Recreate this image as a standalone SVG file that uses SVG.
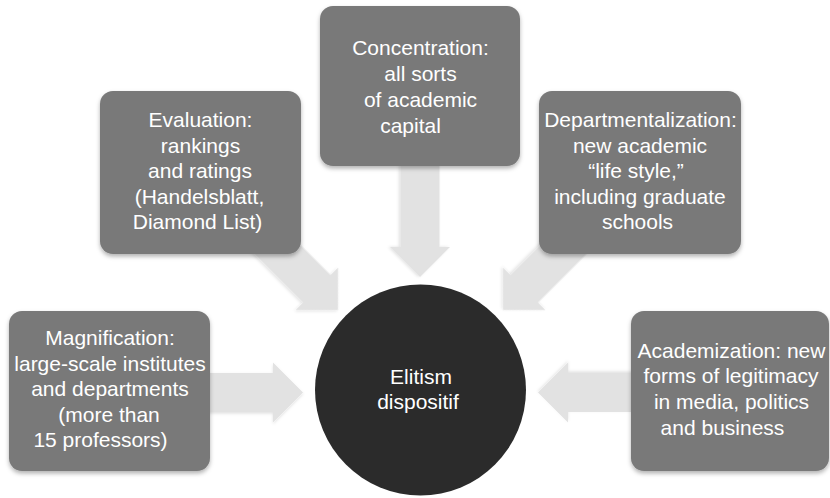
<svg xmlns="http://www.w3.org/2000/svg" width="830" height="498" viewBox="0 0 830 498">
  <style>
    .box { fill: #797979; filter: url(#shadow); }
    .hub { fill: #2b2b2b; }
    .arrow { fill: #e2e2e2; filter: url(#soft); }
    text { font-family: "Liberation Sans", Arial, Helvetica, sans-serif; font-size: 21px; fill: #ffffff; text-anchor: middle; }
  </style>
  <defs>
    <filter id="shadow" x="-10%" y="-10%" width="120%" height="130%">
      <feDropShadow dx="0" dy="2.5" stdDeviation="2" flood-color="#000" flood-opacity="0.3"/>
    </filter>
    <filter id="soft" x="-10%" y="-10%" width="120%" height="130%">
      <feDropShadow dx="0" dy="1.5" stdDeviation="1.5" flood-color="#000" flood-opacity="0.12"/>
    </filter>
    <!-- block arrow pointing along +x, tip at the origin -->
    <path id="block-arrow" d="M-120,-19.5 H-30 V-30 L0,0 L-30,30 V19.5 H-120 Z"/>
  </defs>

  <rect width="830" height="498" fill="#ffffff"/>

  <g id="connectors">
    <use href="#block-arrow" class="arrow" transform="translate(303,392.5)"/>
    <use href="#block-arrow" class="arrow" transform="translate(538,392.5) rotate(180)"/>
    <use href="#block-arrow" class="arrow" transform="translate(420,277) rotate(90)"/>
    <use href="#block-arrow" class="arrow" transform="translate(338,310) rotate(45)"/>
    <use href="#block-arrow" class="arrow" transform="translate(503,310) rotate(135)"/>
  </g>

  <g id="concentration">
    <rect class="box" x="320" y="6" width="200" height="160" rx="13"/>
    <text x="420.5" y="55">Concentration:</text>
    <text x="420.5" y="81">all sorts</text>
    <text x="420.5" y="107">of academic</text>
    <text x="410.5" y="133">capital</text>
  </g>

  <g id="evaluation">
    <rect class="box" x="100" y="91" width="201" height="163" rx="13"/>
    <text x="200.5" y="127">Evaluation:</text>
    <text x="200.5" y="153">rankings</text>
    <text x="200" y="178">and ratings</text>
    <text x="199.5" y="204">(Handelsblatt,</text>
    <text x="197.5" y="229">Diamond List)</text>
  </g>

  <g id="departmentalization">
    <rect class="box" x="539" y="91" width="202" height="163" rx="13"/>
    <text x="640.5" y="127">Departmentalization:</text>
    <text x="640" y="153">new academic</text>
    <text x="636" y="178">“life style,”</text>
    <text x="640" y="204">including graduate</text>
    <text x="637.5" y="229">schools</text>
  </g>

  <g id="magnification">
    <rect class="box" x="9" y="311" width="201" height="160" rx="13"/>
    <text x="110" y="345">Magnification:</text>
    <text x="110" y="371">large-scale institutes</text>
    <text x="110" y="396">and departments</text>
    <text x="109" y="422">(more than</text>
    <text x="100.5" y="447">15 professors)</text>
  </g>

  <g id="academization">
    <rect class="box" x="631" y="311" width="198" height="160" rx="13"/>
    <text x="731.5" y="358">Academization: new</text>
    <text x="731" y="383">forms of legitimacy</text>
    <text x="731.5" y="409">in media, politics</text>
    <text x="722.5" y="435">and business</text>
  </g>

  <g id="elitism">
    <circle class="hub" cx="420.5" cy="390" r="105.5"/>
    <text x="421" y="384">Elitism</text>
    <text x="418" y="409">dispositif</text>
  </g>
</svg>
